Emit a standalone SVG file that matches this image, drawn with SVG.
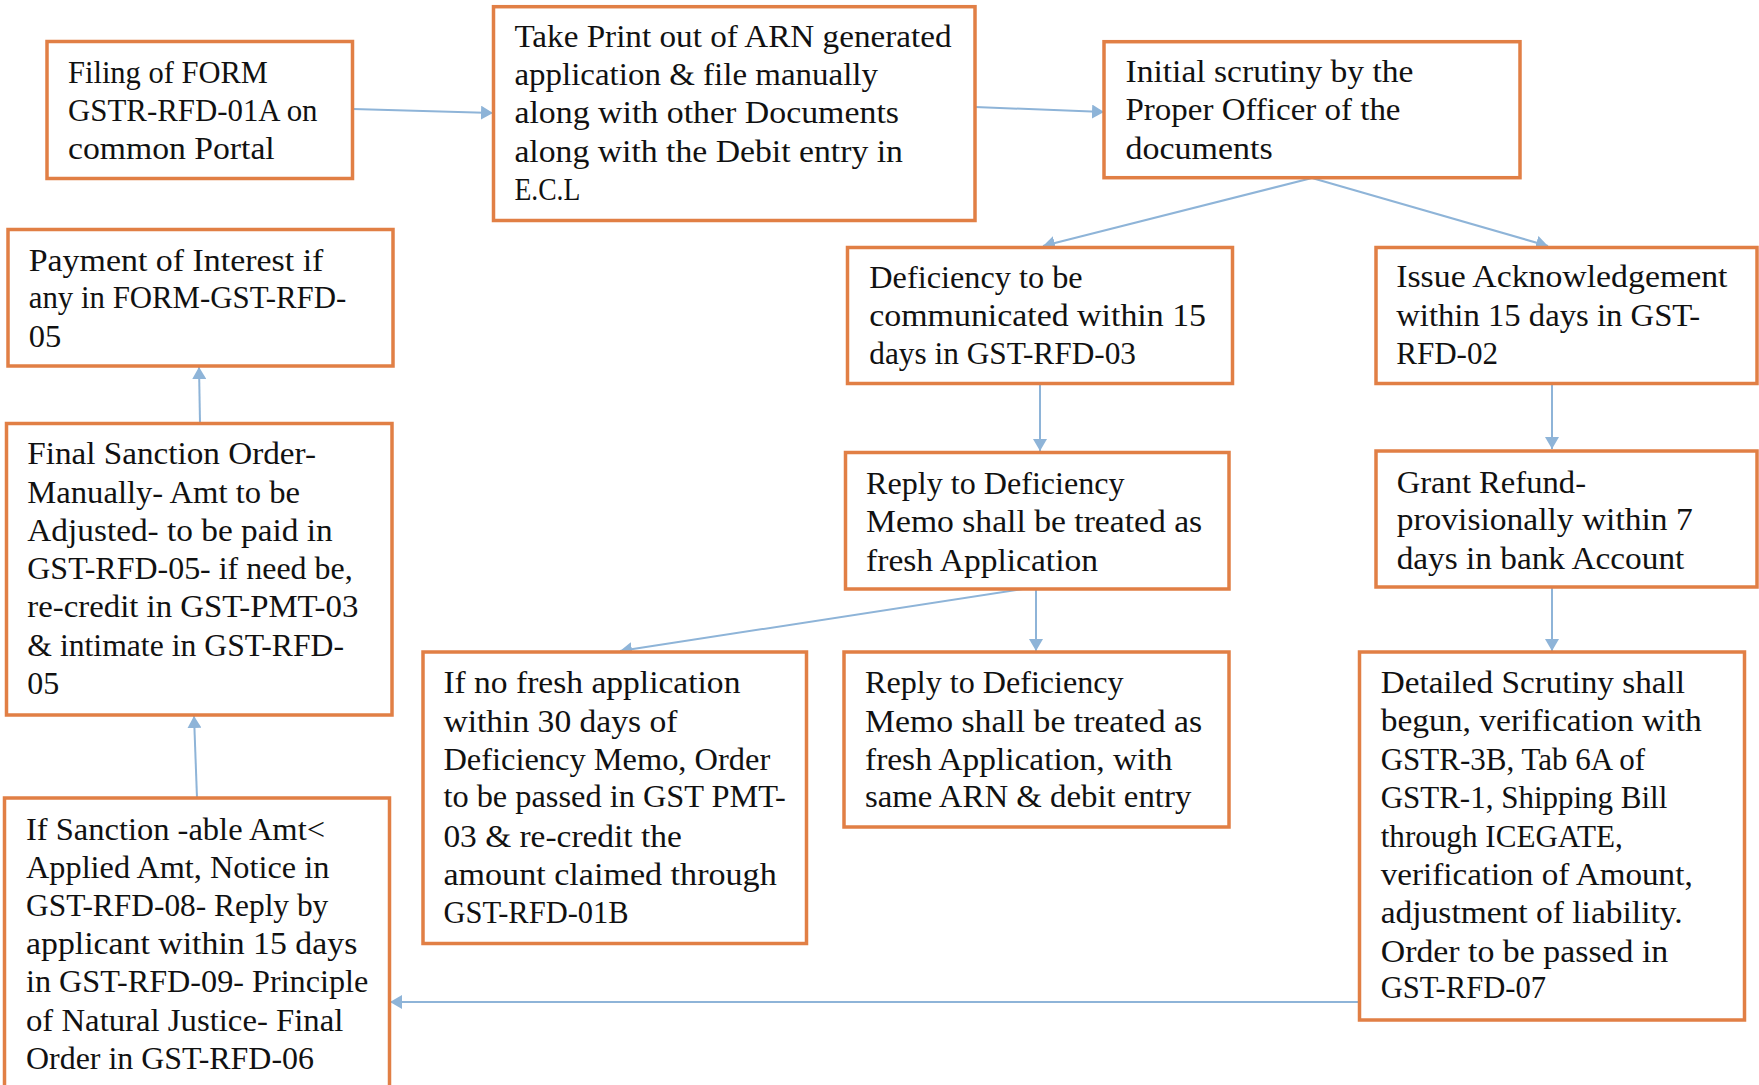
<svg xmlns="http://www.w3.org/2000/svg" width="1759" height="1085" viewBox="0 0 1759 1085">
<style>
.box{fill:#FFFFFF;stroke:#E17F45;stroke-width:3.5}
.t{font-family:"Liberation Serif","Times New Roman",serif;font-size:32px;fill:#111111}
.c{fill:none;stroke:#8EB4D8;stroke-width:2;marker-end:url(#ah)}
</style>
<defs>
<marker id="ah" markerUnits="userSpaceOnUse" markerWidth="14" markerHeight="14" refX="12" refY="7" orient="auto">
<path d="M0,0 L12,7 L0,14 z" fill="#8EB4D8"/>
</marker>
</defs>
<rect width="1759" height="1085" fill="#FFFFFF"/>
<g id="connectors">
<line class="c" x1="353" y1="109" x2="493" y2="113"/>
<line class="c" x1="975" y1="107" x2="1104" y2="112"/>
<line class="c" x1="1312" y1="178" x2="1043" y2="246"/>
<line class="c" x1="1312" y1="178" x2="1548" y2="246"/>
<line class="c" x1="1040" y1="384" x2="1040" y2="451"/>
<line class="c" x1="1552" y1="384" x2="1552" y2="449"/>
<line class="c" x1="1023" y1="589" x2="620" y2="651"/>
<line class="c" x1="1036" y1="589" x2="1036" y2="651"/>
<line class="c" x1="1552" y1="587" x2="1552" y2="651"/>
<line class="c" x1="1359" y1="1002" x2="390" y2="1002"/>
<line class="c" x1="197" y1="798" x2="194" y2="716"/>
<line class="c" x1="200" y1="423" x2="199" y2="367"/>
</g>
<g id="n-filing">
<rect class="box" x="47" y="41.5" width="305.5" height="137"/>
<text class="t" x="68" y="82.7" textLength="199.8" lengthAdjust="spacingAndGlyphs">Filing of FORM</text>
<text class="t" x="68" y="120.7" textLength="249.5" lengthAdjust="spacingAndGlyphs">GSTR-RFD-01A on</text>
<text class="t" x="68" y="159.3" textLength="206.7" lengthAdjust="spacingAndGlyphs">common Portal</text>
</g>
<g id="n-print">
<rect class="box" x="493.5" y="6.7" width="481.5" height="213.8"/>
<text class="t" x="514.4" y="47.3" textLength="437.1" lengthAdjust="spacingAndGlyphs">Take Print out of ARN generated</text>
<text class="t" x="514.4" y="85" textLength="363.6" lengthAdjust="spacingAndGlyphs">application &amp; file manually</text>
<text class="t" x="514.4" y="123.3" textLength="384.6" lengthAdjust="spacingAndGlyphs">along with other Documents</text>
<text class="t" x="514.4" y="161.7" textLength="388.5" lengthAdjust="spacingAndGlyphs">along with the Debit entry in</text>
<text class="t" x="514.4" y="200" textLength="65.9" lengthAdjust="spacingAndGlyphs">E.C.L</text>
</g>
<g id="n-initial">
<rect class="box" x="1104" y="41.7" width="416" height="136"/>
<text class="t" x="1125.5" y="82.3" textLength="288" lengthAdjust="spacingAndGlyphs">Initial scrutiny by the</text>
<text class="t" x="1125.5" y="120" textLength="275" lengthAdjust="spacingAndGlyphs">Proper Officer of the</text>
<text class="t" x="1125.5" y="159.3" textLength="147.2" lengthAdjust="spacingAndGlyphs">documents</text>
</g>
<g id="n-payment">
<rect class="box" x="8" y="229.5" width="385" height="136.5"/>
<text class="t" x="28.7" y="270.7" textLength="294.7" lengthAdjust="spacingAndGlyphs">Payment of Interest if</text>
<text class="t" x="28.7" y="308.3" textLength="317.6" lengthAdjust="spacingAndGlyphs">any in FORM-GST-RFD-</text>
<text class="t" x="28.7" y="346.7" textLength="32.5" lengthAdjust="spacingAndGlyphs">05</text>
</g>
<g id="n-deficiency">
<rect class="box" x="847.5" y="247.5" width="385" height="136"/>
<text class="t" x="869.3" y="288.3" textLength="213.4" lengthAdjust="spacingAndGlyphs">Deficiency to be</text>
<text class="t" x="869.3" y="326" textLength="336.7" lengthAdjust="spacingAndGlyphs">communicated within 15</text>
<text class="t" x="869.3" y="364" textLength="266.7" lengthAdjust="spacingAndGlyphs">days in GST-RFD-03</text>
</g>
<g id="n-ack">
<rect class="box" x="1376" y="247.5" width="381" height="136"/>
<text class="t" x="1396.2" y="287.3" textLength="331.3" lengthAdjust="spacingAndGlyphs">Issue Acknowledgement</text>
<text class="t" x="1396.2" y="325.7" textLength="304" lengthAdjust="spacingAndGlyphs">within 15 days in GST-</text>
<text class="t" x="1396.2" y="364" textLength="101.8" lengthAdjust="spacingAndGlyphs">RFD-02</text>
</g>
<g id="n-reply1">
<rect class="box" x="845.5" y="452.5" width="383.5" height="136.5"/>
<text class="t" x="866.1" y="494" textLength="258.5" lengthAdjust="spacingAndGlyphs">Reply to Deficiency</text>
<text class="t" x="866.1" y="531.9" textLength="336.1" lengthAdjust="spacingAndGlyphs">Memo shall be treated as</text>
<text class="t" x="866.1" y="570.8" textLength="231.9" lengthAdjust="spacingAndGlyphs">fresh Application</text>
</g>
<g id="n-grant">
<rect class="box" x="1376" y="451" width="381" height="136"/>
<text class="t" x="1396.7" y="492.6" textLength="189.3" lengthAdjust="spacingAndGlyphs">Grant Refund-</text>
<text class="t" x="1396.7" y="530" textLength="296" lengthAdjust="spacingAndGlyphs">provisionally within 7</text>
<text class="t" x="1396.7" y="568.6" textLength="287.6" lengthAdjust="spacingAndGlyphs">days in bank Account</text>
</g>
<g id="n-final">
<rect class="box" x="6.5" y="423.5" width="385.5" height="291.5"/>
<text class="t" x="27.3" y="464" textLength="288.7" lengthAdjust="spacingAndGlyphs">Final Sanction Order-</text>
<text class="t" x="27.3" y="502.8" textLength="272.7" lengthAdjust="spacingAndGlyphs">Manually- Amt to be</text>
<text class="t" x="27.3" y="541" textLength="305.4" lengthAdjust="spacingAndGlyphs">Adjusted- to be paid in</text>
<text class="t" x="27.3" y="579.2" textLength="325.4" lengthAdjust="spacingAndGlyphs">GST-RFD-05- if need be,</text>
<text class="t" x="27.3" y="617.4" textLength="331" lengthAdjust="spacingAndGlyphs">re-credit in GST-PMT-03</text>
<text class="t" x="27.3" y="655.6" textLength="316.7" lengthAdjust="spacingAndGlyphs">&amp; intimate in GST-RFD-</text>
<text class="t" x="27.3" y="693.8" textLength="32" lengthAdjust="spacingAndGlyphs">05</text>
</g>
<g id="n-nofresh">
<rect class="box" x="423" y="652" width="383.5" height="291.5"/>
<text class="t" x="443.4" y="692.7" textLength="297" lengthAdjust="spacingAndGlyphs">If no fresh application</text>
<text class="t" x="443.4" y="731.6" textLength="234.1" lengthAdjust="spacingAndGlyphs">within 30 days of</text>
<text class="t" x="443.4" y="769.5" textLength="326.8" lengthAdjust="spacingAndGlyphs">Deficiency Memo, Order</text>
<text class="t" x="443.4" y="807.4" textLength="342.5" lengthAdjust="spacingAndGlyphs">to be passed in GST PMT-</text>
<text class="t" x="443.4" y="847" textLength="238.4" lengthAdjust="spacingAndGlyphs">03 &amp; re-credit the</text>
<text class="t" x="443.4" y="884.9" textLength="333.3" lengthAdjust="spacingAndGlyphs">amount claimed through</text>
<text class="t" x="443.4" y="923.4" textLength="185.3" lengthAdjust="spacingAndGlyphs">GST-RFD-01B</text>
</g>
<g id="n-reply2">
<rect class="box" x="844" y="652" width="385" height="175"/>
<text class="t" x="865" y="692.7" textLength="258.6" lengthAdjust="spacingAndGlyphs">Reply to Deficiency</text>
<text class="t" x="865" y="731.6" textLength="337" lengthAdjust="spacingAndGlyphs">Memo shall be treated as</text>
<text class="t" x="865" y="769.5" textLength="307.4" lengthAdjust="spacingAndGlyphs">fresh Application, with</text>
<text class="t" x="865" y="807.4" textLength="326.3" lengthAdjust="spacingAndGlyphs">same ARN &amp; debit entry</text>
</g>
<g id="n-detailed">
<rect class="box" x="1359.5" y="652" width="385" height="368"/>
<text class="t" x="1380.7" y="692.6" textLength="304.3" lengthAdjust="spacingAndGlyphs">Detailed Scrutiny shall</text>
<text class="t" x="1380.7" y="731" textLength="321" lengthAdjust="spacingAndGlyphs">begun, verification with</text>
<text class="t" x="1380.7" y="769.9" textLength="264.3" lengthAdjust="spacingAndGlyphs">GSTR-3B, Tab 6A of</text>
<text class="t" x="1380.7" y="808.3" textLength="286.6" lengthAdjust="spacingAndGlyphs">GSTR-1, Shipping Bill</text>
<text class="t" x="1380.7" y="846.7" textLength="242" lengthAdjust="spacingAndGlyphs">through ICEGATE,</text>
<text class="t" x="1380.7" y="884.7" textLength="312" lengthAdjust="spacingAndGlyphs">verification of Amount,</text>
<text class="t" x="1380.7" y="923" textLength="302" lengthAdjust="spacingAndGlyphs">adjustment of liability.</text>
<text class="t" x="1380.7" y="962" textLength="287.6" lengthAdjust="spacingAndGlyphs">Order to be passed in</text>
<text class="t" x="1380.7" y="998.3" textLength="165.3" lengthAdjust="spacingAndGlyphs">GST-RFD-07</text>
</g>
<g id="n-sanction">
<rect class="box" x="4.5" y="798" width="385" height="300"/>
<text class="t" x="26" y="839.5" textLength="299" lengthAdjust="spacingAndGlyphs">If Sanction -able Amt&lt;</text>
<text class="t" x="26" y="877.8" textLength="303.3" lengthAdjust="spacingAndGlyphs">Applied Amt, Notice in</text>
<text class="t" x="26" y="916" textLength="302.3" lengthAdjust="spacingAndGlyphs">GST-RFD-08- Reply by</text>
<text class="t" x="26" y="954.2" textLength="331.3" lengthAdjust="spacingAndGlyphs">applicant within 15 days</text>
<text class="t" x="26" y="992.4" textLength="342.3" lengthAdjust="spacingAndGlyphs">in GST-RFD-09- Principle</text>
<text class="t" x="26" y="1030.6" textLength="317.3" lengthAdjust="spacingAndGlyphs">of Natural Justice- Final</text>
<text class="t" x="26" y="1068.8" textLength="288" lengthAdjust="spacingAndGlyphs">Order in GST-RFD-06</text>
</g>
</svg>
